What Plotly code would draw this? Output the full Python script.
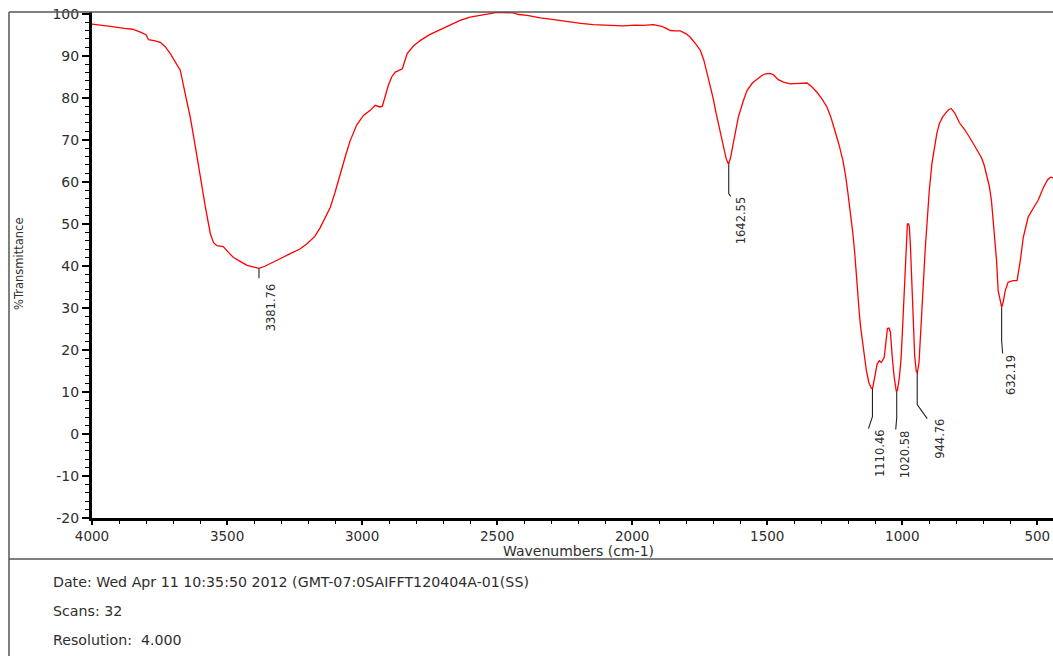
import plotly.graph_objects as go

# ---------------- data ----------------
wavenumber = [
    4000, 3960, 3932, 3880, 3850, 3821, 3800, 3791, 3770, 3747, 3730, 3710, 3690, 3673,
    3655, 3636, 3617, 3599, 3580, 3562, 3550, 3537, 3514, 3495, 3476, 3450, 3426, 3400,
    3382, 3360, 3328, 3300, 3266, 3230, 3203, 3175, 3155, 3135, 3118, 3100, 3081, 3060,
    3044, 3020, 2995, 2970, 2951, 2935, 2925, 2915, 2903, 2890, 2877, 2851, 2840, 2833,
    2810, 2785, 2750, 2711, 2670, 2637, 2600, 2552, 2500, 2440, 2420, 2389, 2340, 2290,
    2240, 2190, 2144, 2090, 2033, 1990, 1960, 1922, 1890, 1870, 1859, 1840, 1822, 1800,
    1785, 1765, 1748, 1735, 1725, 1712, 1701, 1690, 1681, 1672, 1663, 1652, 1643, 1635,
    1626, 1616, 1607, 1590, 1575, 1555, 1537, 1520, 1507, 1490, 1478, 1459, 1440, 1415,
    1380, 1353, 1335, 1316, 1298, 1279, 1265, 1249, 1235, 1220, 1210, 1201, 1192, 1183,
    1176, 1170, 1164, 1159, 1154, 1148, 1140, 1133, 1124, 1115, 1110, 1104, 1098, 1093,
    1085, 1078, 1067, 1060, 1055, 1049, 1044, 1037, 1030, 1022, 1018, 1011, 1005, 1000,
    994, 989, 985, 981, 977, 974, 970, 967, 963, 959, 954, 948, 944, 938,
    933, 928, 922, 915, 907, 900, 890, 881, 872, 863, 850, 837, 828, 818,
    805, 789, 770, 751, 730, 707, 697, 688, 678, 670, 659, 651, 645, 637,
    632, 626, 619, 608, 590, 575, 569, 563, 552, 543, 534, 515, 497, 477,
    462, 451, 442,
]
transmittance = [
    97.5, 97.3, 97.0, 96.5, 96.3, 95.6, 95.0, 93.8, 93.6, 93.2, 92.2, 90.5, 88.5, 86.5,
    81.0, 75.3, 68.2, 61.0, 53.9, 47.7, 45.5, 44.8, 44.6, 43.2, 42.0, 41.0, 40.1, 39.7,
    39.4, 39.9, 41.0, 41.8, 42.9, 44.0, 45.3, 47.0, 49.1, 51.5, 53.9, 57.5, 61.9, 66.5,
    69.8, 73.5, 75.8, 77.0, 78.2, 77.8, 78.0, 80.5, 82.9, 85.0, 86.1, 86.9, 89.5, 90.5,
    92.3, 93.6, 95.0, 96.2, 97.4, 98.4, 99.2, 99.8, 100.3, 100.2, 99.8, 99.6, 99.0, 98.6,
    98.1, 97.7, 97.4, 97.2, 97.1, 97.3, 97.2, 97.4, 97.0, 96.4, 96.0, 95.9, 95.9, 95.2,
    94.4, 92.8, 91.3, 89.0, 86.5, 83.0, 80.1, 76.5, 73.8, 70.8, 68.2, 65.5, 64.1, 66.0,
    69.1, 72.5, 75.4, 79.0, 81.7, 83.5, 84.5, 85.3, 85.7, 85.8, 85.5, 84.3, 83.7, 83.3,
    83.4, 83.5, 82.6, 81.3, 79.8, 77.8, 75.5, 72.2, 69.0, 65.1, 61.5, 57.2, 53.0, 47.7,
    43.0, 37.3, 32.5, 28.6, 25.3, 22.2, 18.5, 15.1, 12.3, 10.9, 10.8, 12.7, 15.0, 16.7,
    17.4, 17.0, 18.2, 22.0, 25.1, 25.2, 24.2, 18.2, 13.5, 10.1, 10.4, 13.4, 17.5, 23.8,
    31.5, 39.7, 45.5, 50.0, 50.0, 49.4, 45.0, 39.7, 32.0, 23.8, 18.5, 14.8, 14.6, 17.0,
    22.2, 28.5, 35.8, 44.0, 51.6, 58.0, 64.5, 68.2, 71.5, 73.8, 75.5, 76.5, 77.2, 77.4,
    76.3, 74.1, 72.5, 70.6, 68.3, 65.8, 64.0, 61.9, 59.0, 55.6, 47.6, 41.3, 34.1, 31.0,
    30.1, 31.5, 34.1, 36.1, 36.5, 36.5, 38.5, 41.3, 46.8, 49.5, 51.6, 53.7, 55.6, 58.7,
    60.5, 61.1, 60.9,
]

peak_wn = [3381.76, 1642.55, 1110.46, 1020.58, 944.76, 632.19]
peak_T = [39.4, 64.1, 10.8, 10.1, 14.6, 30.1]
peak_labels = ["3381.76", "1642.55", "1110.46", "1020.58", "944.76", "632.19"]

x_tick_vals = [4000, 3500, 3000, 2500, 2000, 1500, 1000, 500]
x_tick_text = ["4000", "3500", "3000", "2500", "2000", "1500", "1000", "500"]
y_tick_vals = [-20, -10, 0, 10, 20, 30, 40, 50, 60, 70, 80, 90, 100]
y_tick_text = ["-20", "-10", "0", "10", "20", "30", "40", "50", "60", "70", "80", "90", "100"]

footer_lines = [
    "Date: Wed Apr 11 10:35:50 2012 (GMT-07:0SAIFFT120404A-01(SS)",
    "Scans: 32",
    "Resolution:  4.000",
]

# ---------------- layout constants (pixels) ----------------
W, H = 1053, 656
PL, PR, PT, PB = 92, 1053, 12, 518          # plot area edges
X_RANGE = [4000, 442]
Y_RANGE = [-20, 100.4]
FONT = "DejaVu Sans"
TXT = "#2e2e2e"

wn_per_px = (X_RANGE[0] - X_RANGE[1]) / (PR - PL)
t_per_px = (Y_RANGE[1] - Y_RANGE[0]) / (PB - PT)


def px_x(px):
    return (px - PL) / (PR - PL)


def px_y(py):
    return (PB - py) / (PB - PT)


# leader-line geometry per label (pixels): vertical length, bend dx, bend dy, text dx, text dy
label_geom = [
    (10, 0, 0, 5, 15),
    (29, 2, 3, 5, 32),
    (28, -4, 12, 0, 40),
    (26, -1, 12, 1, 39),
    (32, 10, 14, 15, 46),
    (33, 1, 13, 3, 48),
]

fig = go.Figure()

fig.add_trace(go.Scatter(
    x=wavenumber, y=transmittance, mode="lines",
    line=dict(color="#ff0000", width=1.3), hoverinfo="skip", showlegend=False,
))

annotations = []
for wn, t, lab, (vl, bdx, bdy, tdx, tdy) in zip(peak_wn, peak_T, peak_labels, label_geom):
    xs = [wn, wn, wn - bdx * wn_per_px]
    ys = [t, t - vl * t_per_px, t - (vl + bdy) * t_per_px]
    fig.add_trace(go.Scatter(
        x=xs, y=ys, mode="lines", line=dict(color="#222222", width=1.1),
        hoverinfo="skip", showlegend=False,
    ))
    annotations.append(dict(
        x=wn, y=t, xref="x", yref="y", text=lab, showarrow=False,
        textangle=-90, xanchor="left", yanchor="top",
        xshift=tdx - 2, yshift=-(tdy - 2),
        font=dict(family=FONT, size=11.5, color=TXT),
    ))

# axis titles
annotations.append(dict(
    x=px_x(578), y=px_y(551), xref="paper", yref="paper", text="Wavenumbers (cm-1)",
    showarrow=False, xanchor="center", yanchor="middle",
    font=dict(family=FONT, size=14, color=TXT),
))
annotations.append(dict(
    x=px_x(19), y=px_y(264), xref="paper", yref="paper", text="%Transmittance",
    showarrow=False, xanchor="center", yanchor="middle", textangle=-90,
    font=dict(family=FONT, size=11.5, color=TXT),
))
# footer
for line, cy in zip(footer_lines, [582, 611, 640]):
    annotations.append(dict(
        x=px_x(51), y=px_y(cy), xref="paper", yref="paper", text=line,
        showarrow=False, xanchor="left", yanchor="middle",
        font=dict(family=FONT, size=14.2, color=TXT),
    ))

frame = dict(color="#555555", width=1.5)
shapes = [
    dict(type="line", xref="paper", yref="paper", x0=px_x(9), x1=px_x(9),
         y0=px_y(PT), y1=px_y(H + 5), line=frame, layer="above"),
    dict(type="line", xref="paper", yref="paper", x0=px_x(9), x1=1.01,
         y0=px_y(PT), y1=px_y(PT), line=frame, layer="above"),
    dict(type="line", xref="paper", yref="paper", x0=px_x(9), x1=1.01,
         y0=px_y(559), y1=px_y(559), line=frame, layer="above"),
]

fig.update_layout(
    width=W, height=H,
    margin=dict(l=PL, r=W - PR, t=PT, b=H - PB),
    paper_bgcolor="white", plot_bgcolor="white",
    font=dict(family=FONT, color=TXT),
    annotations=annotations, shapes=shapes,
    xaxis=dict(
        range=X_RANGE, tickvals=x_tick_vals, ticktext=x_tick_text,
        showgrid=False, zeroline=False,
        showline=True, linecolor="black", linewidth=3,
        ticks="outside", ticklen=4, tickwidth=1.5, tickcolor="black",
        tickfont=dict(family=FONT, size=13.5, color=TXT),
        minor=dict(dtick=100, ticks="outside", ticklen=3, tickwidth=1.2, tickcolor="black"),
    ),
    yaxis=dict(
        range=Y_RANGE, tickvals=y_tick_vals, ticktext=y_tick_text,
        showgrid=False, zeroline=False,
        showline=True, linecolor="black", linewidth=3,
        ticks="outside", ticklen=7, tickwidth=1.5, tickcolor="black",
        tickfont=dict(family=FONT, size=14, color=TXT),
        minor=dict(dtick=2, ticks="outside", ticklen=4, tickwidth=1.2, tickcolor="black"),
    ),
)

fig.write_html(
    "out.html",
    config={"displayModeBar": False},
    post_script="document.body.style.margin='0';document.body.style.overflow='hidden';",
)
